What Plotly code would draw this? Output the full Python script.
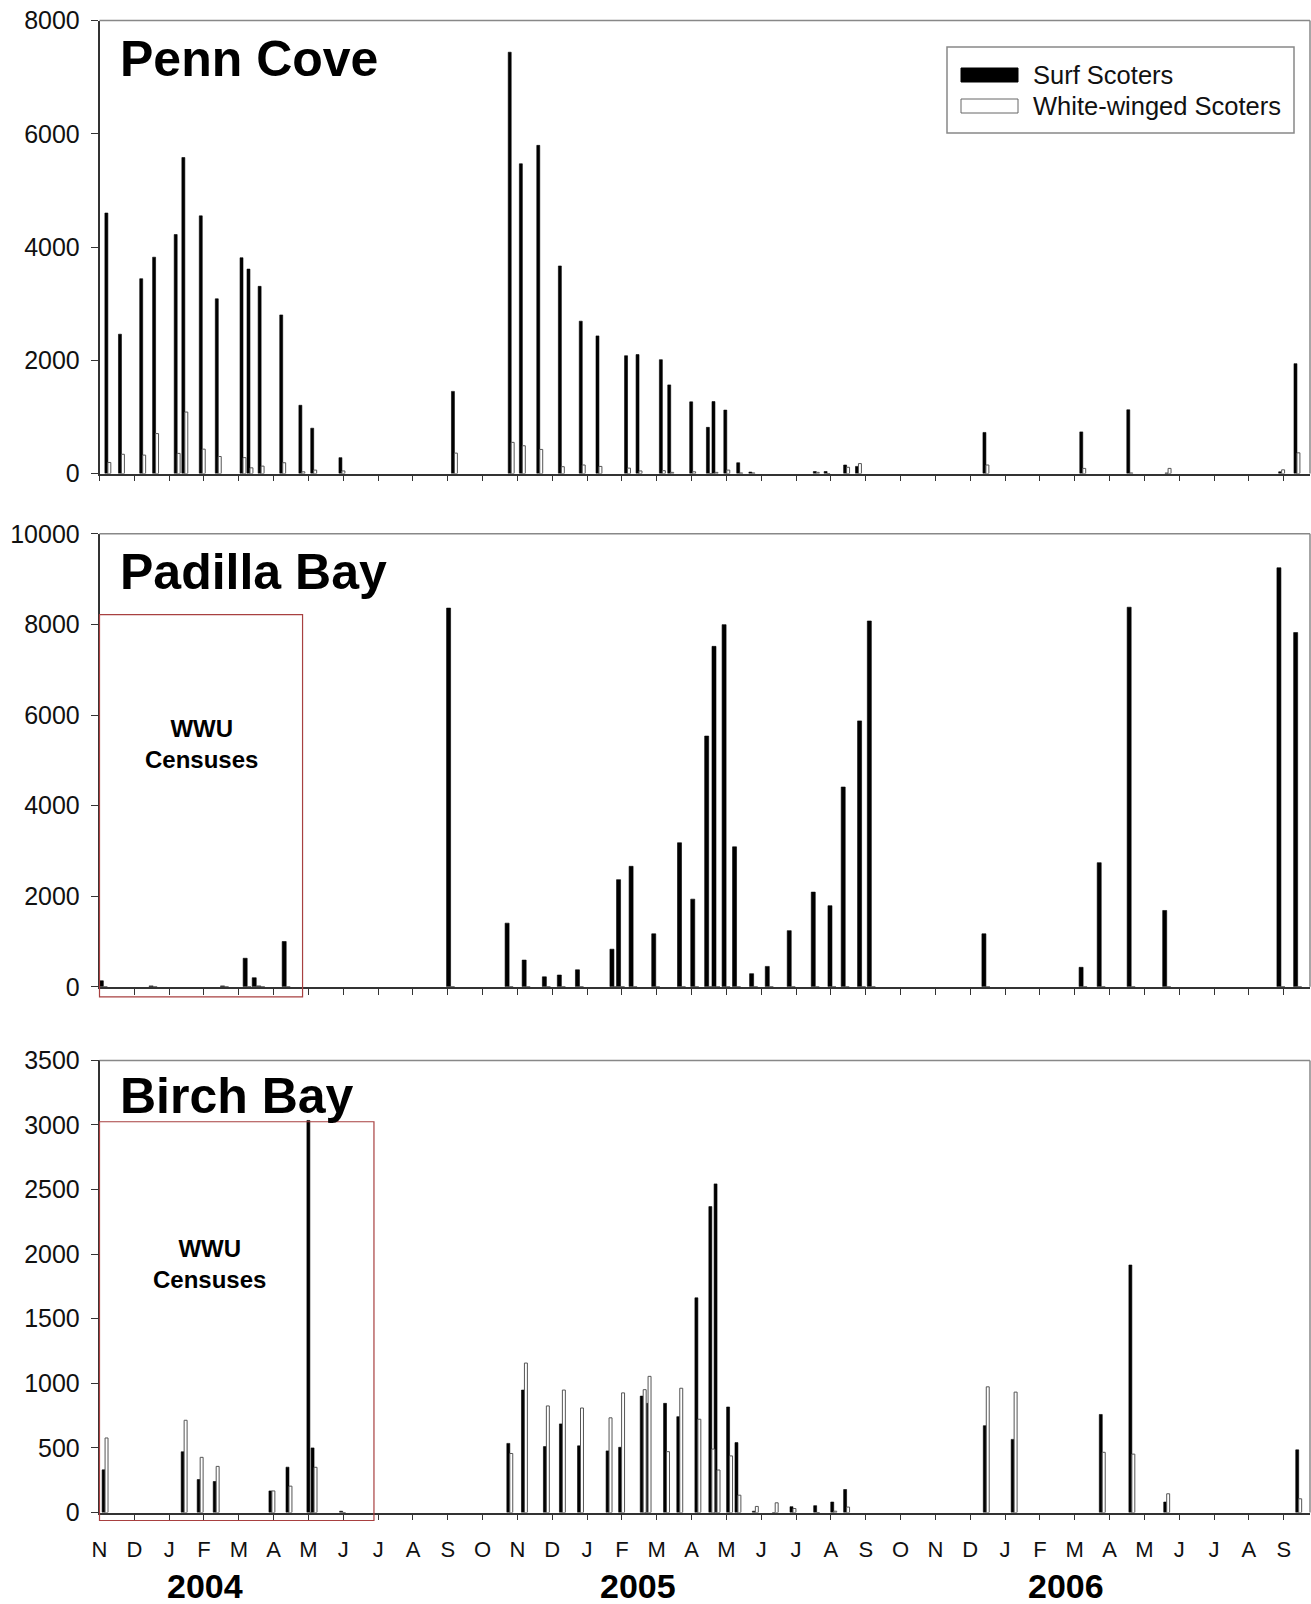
import plotly.graph_objects as go

W, H = 1311, 1604

# ---------------- data (x = months since 1 Nov 2003) ----------------
month_labels = ["N", "D", "J", "F", "M", "A", "M", "J", "J", "A", "S", "O"] * 3
month_labels = month_labels[:35]
month_ticks = list(range(35))

year_labels = ["2004", "2005", "2006"]
year_pos = [3.02, 15.46, 27.75]

penn_month = [0.24, 0.63, 1.24, 1.61, 2.23, 2.45, 2.95, 3.41, 4.12, 4.32, 4.64, 5.26, 5.81, 6.15, 6.96,
              10.19, 11.82, 12.14, 12.64, 13.26, 13.86, 14.34, 15.16, 15.49, 16.16, 16.40, 17.03, 17.51,
              17.67, 18.01, 18.38, 18.73, 20.58, 20.89, 21.45, 21.79, 25.45, 28.23, 29.58, 30.68, 33.94, 34.38]
penn_surf = [4600, 2460, 3440, 3820, 4220, 5580, 4550, 3085, 3810, 3610, 3305, 2800, 1205, 800, 280,
             1450, 7440, 5470, 5795, 3665, 2690, 2430, 2080, 2100, 2010, 1565, 1265, 815,
             1270, 1120, 190, 25, 35, 35, 150, 125, 725, 735, 1125, 10, 30, 1940]
penn_white = [195, 340, 325, 705, 355, 1085, 430, 300, 280, 100, 130, 190, 30, 60, 45,
              360, 550, 490, 425, 120, 150, 125, 95, 45, 50, 20, 30, 0,
              20, 60, 10, 10, 20, 0, 110, 175, 150, 90, 10, 90, 65, 365]

padilla_month = [0.11, 1.54, 3.59, 4.24, 4.50, 4.63, 5.36, 10.08, 11.76, 12.25, 12.83, 13.26, 13.78,
                 14.77, 14.96, 15.32, 15.97, 16.71, 17.09, 17.49, 17.70, 17.99, 18.29, 18.78, 19.23,
                 19.86, 20.55, 21.03, 21.41, 21.88, 22.16, 25.45, 28.24, 28.76, 29.62, 30.64, 33.92, 34.40]
padilla_surf = [133, 20, 20, 630, 200, 20, 1000, 8360, 1405, 590, 220, 260, 375,
                830, 2365, 2660, 1170, 3180, 1935, 5535, 7515, 7995, 3090, 290, 450,
                1240, 2090, 1790, 4410, 5870, 8075, 1170, 430, 2740, 8380, 1685, 9250, 7820]
padilla_white = [0] * len(padilla_month)

birch_month = [0.16, 2.43, 2.89, 3.35, 4.95, 5.44, 6.04, 6.16, 6.98, 11.78, 12.20, 12.83, 13.29, 13.81,
               14.63, 14.99, 15.61, 15.75, 16.28, 16.66, 17.18, 17.58, 17.73, 18.09, 18.33, 18.83,
               19.40, 19.91, 20.59, 21.08, 21.45, 25.46, 26.26, 28.79, 29.64, 30.64, 34.43]
birch_surf = [330, 470, 255, 240, 167, 351, 3035, 500, 10, 535, 948, 510, 686, 516,
              477, 505, 901, 845, 845, 742, 1662, 2368, 2544, 817, 541, 10,
              0, 45, 53, 81, 178, 672, 566, 759, 1916, 81, 485]
birch_white = [577, 714, 427, 357, 167, 204, 0, 350, 0, 457, 1157, 825, 948, 809,
               733, 926, 951, 1054, 471, 962, 722, 491, 329, 438, 134, 47,
               75, 31, 0, 10, 42, 973, 932, 466, 452, 145, 106]

panels = [
    dict(name="Penn Cove", month=penn_month, surf=penn_surf, white=penn_white, bw=0.085,
         ymax=8000, ydtick=2000, top=20.5, bottom=473.5, title_y=59),
    dict(name="Padilla Bay", month=padilla_month, surf=padilla_surf, white=padilla_white, bw=0.115,
         ymax=10000, ydtick=2000, top=533.8, bottom=986.8, title_y=572),
    dict(name="Birch Bay", month=birch_month, surf=birch_surf, white=birch_white, bw=0.085,
         ymax=3500, ydtick=500, top=1060.4, bottom=1512.5, title_y=1096),
]

# ---------------- layout helpers ----------------
FONT = "Liberation Sans, Arial, sans-serif"
X_LEFT, X_RIGHT = 99.5, 1310.0
PX_PER_MONTH = 34.83
XMAX = (X_RIGHT - X_LEFT) / PX_PER_MONTH


def fx(px):
    return px / W


def fy(py):
    return 1 - py / H


fig = go.Figure()
layout = dict(
    width=W, height=H, margin=dict(l=0, r=0, t=0, b=0, autoexpand=False),
    paper_bgcolor="white", plot_bgcolor="white",
    barmode="overlay", showlegend=False,
    font=dict(family=FONT, color="#111"),
)
shapes = []
annotations = []

for i, p in enumerate(panels, start=1):
    sfx = "" if i == 1 else str(i)
    xa, ya = "x" + sfx, "y" + sfx
    bw = p["bw"]
    fig.add_trace(go.Bar(
        x=p["month"], y=p["surf"], width=bw, offset=-bw, name="Surf Scoters",
        marker=dict(color="black", line=dict(color="black", width=0.6)),
        xaxis=xa, yaxis=ya))
    fig.add_trace(go.Bar(
        x=p["month"], y=p["white"], width=bw, offset=0, name="White-winged Scoters",
        marker=dict(color="white", line=dict(color="#555", width=1)),
        xaxis=xa, yaxis=ya))

    last = (i == len(panels))
    layout["xaxis" + sfx] = dict(
        domain=[fx(X_LEFT), fx(X_RIGHT)], anchor=ya, range=[0, XMAX], automargin=False,
        tickmode="array", tickvals=month_ticks, ticktext=month_labels,
        showticklabels=last, ticks="outside", ticklen=6, tickwidth=1.2, tickcolor="#333",
        showline=True, linecolor="#333", linewidth=1.5, showgrid=False, zeroline=False,
        tickfont=dict(family=FONT, size=22, color="#111"), ticklabelstandoff=10,
    )
    layout["yaxis" + sfx] = dict(
        domain=[fy(p["bottom"]), fy(p["top"])], anchor=xa, range=[0, p["ymax"]], automargin=False,
        tickmode="linear", tick0=0, dtick=p["ydtick"], tickformat="d",
        ticks="outside", ticklen=7, tickwidth=1.2, tickcolor="#333",
        showline=True, linecolor="#333", linewidth=1.5, showgrid=False, zeroline=False,
        tickfont=dict(family=FONT, size=25, color="#111"), ticklabelstandoff=6,
    )
    # top and right frame lines (grey)
    shapes.append(dict(type="line", xref=xa + " domain", yref=ya + " domain",
                       x0=0, x1=1, y0=1, y1=1, line=dict(color="#888", width=1.5)))
    shapes.append(dict(type="line", xref=xa + " domain", yref=ya + " domain",
                       x0=1, x1=1, y0=0, y1=1, line=dict(color="#888", width=1.5)))
    # panel title
    annotations.append(dict(text=p["name"], xref="paper", yref="paper",
                            x=fx(118), y=fy(p["title_y"]), xanchor="left", yanchor="middle",
                            showarrow=False,
                            font=dict(family=FONT, size=50, color="black", weight="bold")))

# WWU census boxes (red) on Padilla Bay and Birch Bay
census_boxes = [
    dict(sfx="2", x1=5.83, ytop=8217, ymax=10000, below=10 / 453.0, tx=2.93, ty=5350),
    dict(sfx="3", x1=7.88, ytop=3025, ymax=3500, below=8 / 452.1, tx=3.16, ty=1920),
]
for b in census_boxes:
    shapes.append(dict(type="rect", xref="x" + b["sfx"] + " domain", yref="y" + b["sfx"] + " domain",
                       x0=0, x1=b["x1"] / XMAX, y0=-b["below"], y1=b["ytop"] / b["ymax"],
                       line=dict(color="#a84040", width=1.2)))
    annotations.append(dict(text="WWU<br>Censuses", xref="x" + b["sfx"], yref="y" + b["sfx"],
                            x=b["tx"], y=b["ty"], showarrow=False, xanchor="center", yanchor="middle",
                            font=dict(family=FONT, size=24, color="black", weight="bold")))

# year labels under the bottom axis
for lab, pos in zip(year_labels, year_pos):
    annotations.append(dict(text=lab, xref="x3", yref="paper", x=pos, y=fy(1586),
                            showarrow=False, xanchor="center", yanchor="middle",
                            font=dict(family=FONT, size=34, color="black", weight="bold")))

# custom legend (wide swatches as in the original)
shapes.append(dict(type="rect", xref="paper", yref="paper", x0=fx(947), x1=fx(1294),
                   y0=fy(133), y1=fy(47), line=dict(color="#888", width=1.5), fillcolor="white"))
shapes.append(dict(type="rect", xref="paper", yref="paper", x0=fx(961), x1=fx(1018),
                   y0=fy(82), y1=fy(68), line=dict(color="black", width=1), fillcolor="black"))
shapes.append(dict(type="rect", xref="paper", yref="paper", x0=fx(961), x1=fx(1018),
                   y0=fy(113), y1=fy(99), line=dict(color="#666", width=1), fillcolor="white"))
for lab, ypx in [("Surf Scoters", 75), ("White-winged Scoters", 106)]:
    annotations.append(dict(text=lab, xref="paper", yref="paper", x=fx(1031), y=fy(ypx),
                            xanchor="left", yanchor="middle", showarrow=False,
                            font=dict(family=FONT, size=25.5, color="#111")))

layout["shapes"] = shapes
layout["annotations"] = annotations
fig.update_layout(**layout)

fig.write_html("out.html", config={"displayModeBar": False},
               post_script="document.body.style.margin='0px';document.body.style.overflow='hidden';")
